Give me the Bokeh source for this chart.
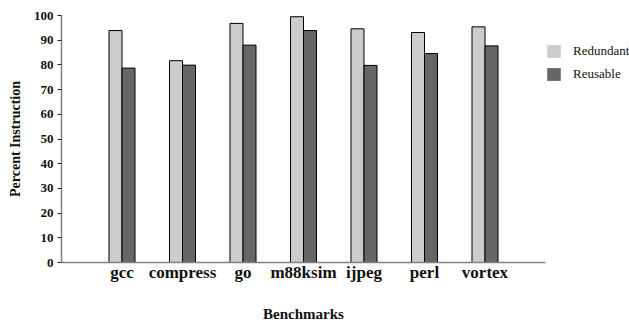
from bokeh.plotting import figure
from bokeh.models import Range1d, FixedTicker, Legend, LegendItem, ColumnDataSource
from bokeh.embed import file_html
from bokeh.resources import INLINE

# Benchmark results: share of instructions (%)
benchmarks = ["gcc", "compress", "go", "m88ksim", "ijpeg", "perl", "vortex"]
redundant = [93.9, 81.7, 96.8, 99.5, 94.6, 93.1, 95.4]
reusable = [78.7, 79.9, 88.0, 93.9, 79.8, 84.6, 87.7]

SERIF = "Liberation Serif"
LIGHT, DARK = "#cccccc", "#666666"
bar_w = 0.215
pos = list(range(1, len(benchmarks) + 1))

src = ColumnDataSource(dict(
    x_red=[i - bar_w / 2 for i in pos],
    x_reu=[i + bar_w / 2 for i in pos],
    redundant=redundant,
    reusable=reusable,
))

p = figure(frame_width=484, frame_height=247, output_backend="svg", toolbar_location=None,
           x_range=Range1d(0, len(benchmarks) + 1), y_range=Range1d(0, 100),
           min_border_left=61, min_border_right=0, min_border_top=15, min_border_bottom=58)

# fill-only layer (used for the legend swatches, which have no outline)
fill_red = p.vbar(x="x_red", top="redundant", width=bar_w, bottom=0, source=src,
                  fill_color=LIGHT, line_color=None)
fill_reu = p.vbar(x="x_reu", top="reusable", width=bar_w, bottom=0, source=src,
                  fill_color=DARK, line_color=None)
# outlined bars on top
p.vbar(x="x_red", top="redundant", width=bar_w, bottom=0, source=src,
       fill_color=LIGHT, line_color="black", line_width=1)
p.vbar(x="x_reu", top="reusable", width=bar_w, bottom=0, source=src,
       fill_color=DARK, line_color="black", line_width=1)

legend = Legend(items=[LegendItem(label="Redundant", renderers=[fill_red]),
                       LegendItem(label="Reusable", renderers=[fill_reu])],
                location=(0, 180), padding=0, margin=0, spacing=7,
                glyph_width=17, glyph_height=16, label_height=16, label_standoff=11,
                label_text_font=SERIF, label_text_font_size="13px",
                label_text_color="#111111",
                border_line_alpha=0, background_fill_alpha=0)
p.add_layout(legend, "right")

p.xgrid.visible = False
p.ygrid.visible = False
p.outline_line_color = None

xa = p.xaxis[0]
xa.ticker = FixedTicker(ticks=pos)
xa.major_label_overrides = {i: b for i, b in zip(pos, benchmarks)}
xa.major_tick_line_color = None
xa.major_tick_in = 0
xa.major_tick_out = 0
xa.minor_tick_line_color = None
xa.axis_line_color = "#808080"
xa.axis_line_width = 1.5
xa.major_label_text_font = SERIF
xa.major_label_text_font_style = "bold"
xa.major_label_text_font_size = "17px"
xa.major_label_text_color = "#111111"
xa.major_label_standoff = 0
xa.axis_label = "Benchmarks"
xa.axis_label_text_font = SERIF
xa.axis_label_text_font_style = "bold"
xa.axis_label_text_font_size = "15px"
xa.axis_label_text_color = "#111111"
xa.axis_label_standoff = 21

ya = p.yaxis[0]
ya.ticker = FixedTicker(ticks=list(range(0, 101, 10)))
ya.minor_tick_line_color = None
ya.major_tick_in = 0
ya.major_tick_out = 4
ya.major_tick_line_color = "#222222"
ya.axis_line_color = "#808080"
ya.axis_line_width = 1.5
ya.major_label_text_font = SERIF
ya.major_label_text_font_style = "bold"
ya.major_label_text_font_size = "13px"
ya.major_label_text_color = "#111111"
ya.major_label_standoff = 4
ya.axis_label = "Percent Instruction"
ya.axis_label_text_font = SERIF
ya.axis_label_text_font_style = "bold"
ya.axis_label_text_font_size = "14px"
ya.axis_label_text_color = "#111111"
ya.axis_label_standoff = 8

open("out.html", "w").write(file_html(p, INLINE))
